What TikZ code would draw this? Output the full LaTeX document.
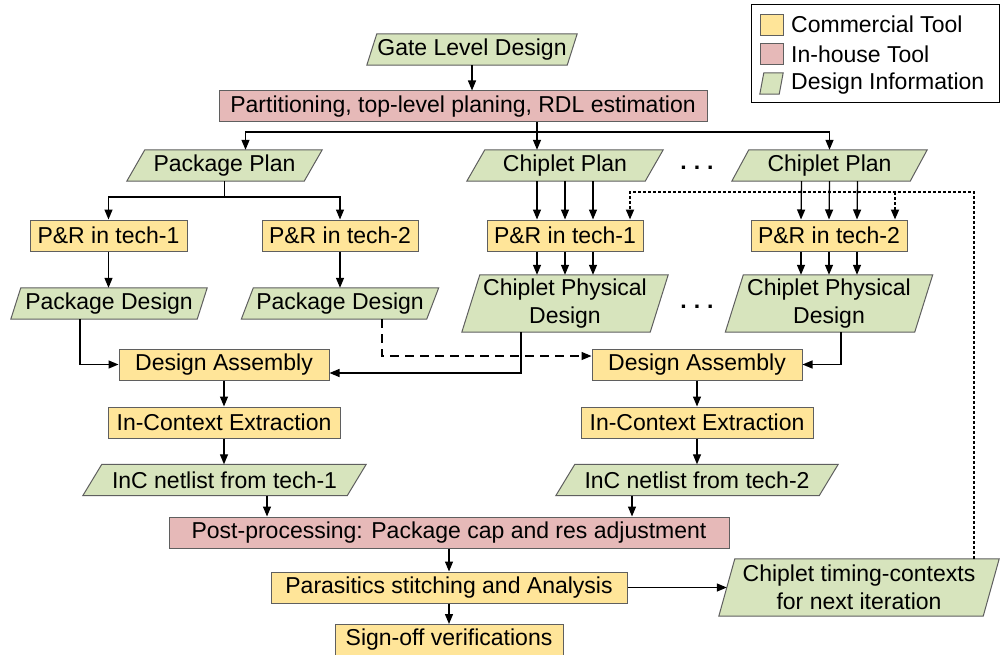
\documentclass[tikz,border=0pt]{standalone}
\usepackage{fontspec}
\setmainfont{Liberation Sans}
\usetikzlibrary{arrows.meta,backgrounds}
\definecolor{giallo}{HTML}{FFE599}
\definecolor{rosa}{HTML}{E6B9B8}
\definecolor{verde}{HTML}{D7E4BD}
\definecolor{bordo}{HTML}{5F5F5F}
\begin{document}
\begin{tikzpicture}[x=1pt, y=-1pt,
    every node/.style={font=\fontsize{23}{28}\selectfont, inner sep=0pt, align=center, minimum height=31},
    tool/.style={draw=bordo, line width=1pt, fill=giallo},
    inhouse/.style={draw=bordo, line width=1pt, fill=rosa},
    info/.style={},
    arr/.style={line width=1.3pt, -{Triangle[length=10pt,width=8pt]}},
    dasharr/.style={arr, dash pattern=on 9pt off 6pt},
    dotarr/.style={arr, line width=1.8pt, dash pattern=on 2.5pt off 2.5pt}]
    \path[use as bounding box] (0,0) rectangle (1000,655);
    %nodi
    \node[info, minimum width=200] (gate) at (472,49.5) {Gate Level Design};
    \node[inhouse, minimum width=488] (part) at (463,106.5) {Partitioning, top-level planing, RDL estimation};
    \node[info, minimum width=177] (pkgplan) at (224.5,165.5) {Package Plan};
    \node[info, minimum width=178] (chipA) at (565,165.5) {Chiplet Plan};
    \node[info, minimum width=178] (chipB) at (829.5,165.5) {Chiplet Plan};
    \node (dotsA) at (697,168) {\textbf{.\hspace{7pt}.\hspace{7pt}.}};
    \node[tool, minimum width=157] (prA1) at (108.5,235.5) {P\&R in tech-1};
    \node[tool, minimum width=156] (prA2) at (340,235.5) {P\&R in tech-2};
    \node[tool, minimum width=156] (prB1) at (565,235.5) {P\&R in tech-1};
    \node[tool, minimum width=156] (prB2) at (829,235.5) {P\&R in tech-2};
    \node[info, minimum width=186] (pkgdesA) at (109,303.5) {Package Design};
    \node[info, minimum width=185] (pkgdesB) at (340,303.5) {Package Design};
    \node[info, minimum width=188, minimum height=57] (physA) at (565,303.5) {Chiplet Physical\\Design};
    \node[info, minimum width=189, minimum height=57] (physB) at (829,303.5) {Chiplet Physical\\Design};
    \node (dotsB) at (697,307) {\textbf{.\hspace{7pt}.\hspace{7pt}.}};
    \node[tool, minimum width=210] (daA) at (224,364.5) {Design Assembly};
    \node[tool, minimum width=210] (daB) at (697,364.5) {Design Assembly};
    \node[tool, minimum width=232] (exA) at (224,422.5) {In-Context Extraction};
    \node[tool, minimum width=232] (exB) at (697,422.5) {In-Context Extraction};
    \node[info, minimum width=264] (netA) at (224.5,480) {InC netlist from tech-1};
    \node[info, minimum width=263] (netB) at (697,480) {InC netlist from tech-2};
    \node[inhouse, minimum width=560] (post) at (449,532.5) {Post-processing: Package cap and res adjustment};
    \node[tool, minimum width=356] (para) at (449,587.5) {Parasitics stitching and Analysis};
    \node[tool, minimum width=228] (sign) at (449,640) {Sign-off verifications};
    \node[info, minimum width=264, minimum height=57] (timing) at (859,587.5) {Chiplet timing-contexts\\for next iteration};
    %legenda
    \draw[line width=1pt] (751,5) rectangle (999,103);
    \node[tool, minimum width=23, minimum height=21] (legtool) at (771.5,25.5) {};
    \node[inhouse, minimum width=23, minimum height=21] (leghouse) at (771.5,54.5) {};
    \node[info, minimum width=19, minimum height=21] (leginfo) at (771.5,83.5) {};
    \node[anchor=west] (legtooltxt) at (791,24.5) {Commercial Tool};
    \node[anchor=west] (leghousetxt) at (791,54) {In-house Tool};
    \node[anchor=west] (leginfotxt) at (791,83.5) {Design Information};
    %parallelogrammi
    \begin{scope}[on background layer]
        \fill[white] (0,0) rectangle (1000,655);
        \foreach \n/\s in {gate/10, pkgplan/18, chipA/18, chipB/17, pkgdesA/10, pkgdesB/12, physA/18, physB/18, netA/19, netB/19, timing/16, leginfo/4}
            \draw[bordo, fill=verde, line width=1pt] ([xshift=-\s/2]\n.south west) -- ([xshift=\s/2]\n.north west)
                -- ([xshift=\s/2]\n.north east) -- ([xshift=-\s/2]\n.south east) -- cycle;
    \end{scope}
    %frecce
    \draw[arr] (gate.south) -- (gate.south |- part.north);
    \coordinate (split) at (537,132);
    \draw[line width=1.3pt] (part.south -| split) -- (split);
    \draw[arr] (split) -| ([xshift=21]pkgplan.north);
    \draw[arr] (split) -- (split |- chipA.north);
    \draw[arr] (split) -| (chipB.north);
    \coordinate (pkgsplit) at (224.5,197);
    \draw[line width=1.3pt] (pkgplan.south) -- (pkgsplit);
    \draw[arr] (pkgsplit) -| (prA1.north);
    \draw[arr] (pkgsplit) -| (prA2.north);
    \draw[arr] (prA1.south) -- (prA1.south |- pkgdesA.north);
    \draw[arr] (prA2.south) -- (prA2.south |- pkgdesB.north);
    \foreach \dx in {-28,0,28} {
        \draw[arr] ([xshift=\dx]chipA.south) -- ([xshift=\dx]prB1.north);
        \draw[arr] ([xshift=\dx]prB1.south) -- ([xshift=\dx]physA.north);
        \draw[arr] ([xshift=\dx]chipB.south) -- ([xshift=\dx]prB2.north);
        \draw[arr] ([xshift=\dx]prB2.south) -- ([xshift=\dx]physB.north);
    }
    \draw[arr] ([xshift=-29]pkgdesA.south) |- (daA.west);
    \draw[arr] ([xshift=-44]physA.south) |- ([yshift=-8.5]daA.east);
    \draw[dasharr] ([xshift=42]pkgdesB.south) |- ([yshift=8.5]daB.west);
    \draw[arr] ([xshift=12]physB.south) |- (daB.east);
    \draw[arr] (daA) -- (exA);
    \draw[arr] (daB) -- (exB);
    \draw[arr] (exA.south) -- (exA.south |- netA.north);
    \draw[arr] (exB) -- (netB);
    \coordinate (nA) at ([xshift=42.5]netA.south);
    \coordinate (nB) at ([xshift=-65]netB.south);
    \draw[arr] (nA) -- (nA |- post.north);
    \draw[arr] (nB) -- (nB |- post.north);
    \draw[arr] (post) -- (para);
    \draw[arr] (para) -- (sign);
    \draw[arr] (para) -- (timing);
    %retroazione
    \coordinate (fb) at (974,192);
    \coordinate (fbB) at ([xshift=66]prB2.north);
    \draw[dotarr] (fb |- timing.north) -- (fb) -| ([xshift=65]prB1.north);
    \draw[dotarr] (fbB |- fb) -- (fbB);
\end{tikzpicture}
\end{document}
